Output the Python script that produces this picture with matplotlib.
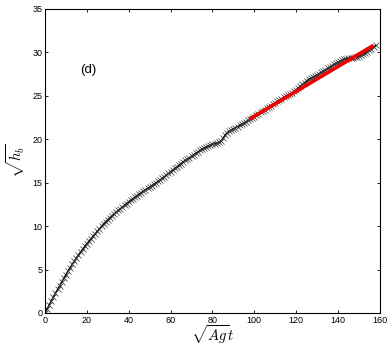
import matplotlib
matplotlib.use("Agg")
import matplotlib.pyplot as plt
import numpy as np

plt.rcParams['font.family'] = ['Liberation Sans', 'DejaVu Sans']
plt.rcParams['mathtext.fontset'] = 'cm'

# sqrt(Ag) t, sampled once per unit
t_vals = np.arange(0, 159)
# sqrt(h_b)
hb_vals = [
    0.00, 0.46, 0.92, 1.38, 1.83, 2.28, 2.72, 3.15, 3.58, 4.00,
    4.42, 4.83, 5.22, 5.60, 5.97, 6.33, 6.68, 7.02, 7.35, 7.67,
    7.98, 8.28, 8.57, 8.85, 9.13, 9.41, 9.69, 9.97, 10.24, 10.50,
    10.75, 10.97, 11.18, 11.39, 11.60, 11.80, 12.00, 12.20, 12.40, 12.60,
    12.80, 12.98, 13.16, 13.34, 13.52, 13.70, 13.86, 14.02, 14.18, 14.34,
    14.50, 14.66, 14.82, 14.98, 15.14, 15.30, 15.49, 15.68, 15.87, 16.06,
    16.25, 16.44, 16.63, 16.82, 17.01, 17.20, 17.39, 17.55, 17.72, 17.88,
    18.05, 18.21, 18.37, 18.54, 18.70, 18.87, 19.00, 19.10, 19.20, 19.30,
    19.40, 19.48, 19.56, 19.64, 19.75, 20.10, 20.45, 20.75, 20.90, 21.05,
    21.20, 21.33, 21.46, 21.60, 21.74, 21.88, 22.02, 22.16, 22.30, 22.46,
    22.61, 22.77, 22.93, 23.08, 23.24, 23.40, 23.55, 23.71, 23.87, 24.02,
    24.18, 24.34, 24.50, 24.65, 24.80, 24.95, 25.10, 25.20, 25.30, 25.50,
    25.70, 25.90, 26.10, 26.30, 26.50, 26.70, 26.90, 27.03, 27.15, 27.28,
    27.40, 27.55, 27.70, 27.85, 28.00, 28.15, 28.30, 28.45, 28.60, 28.72,
    28.85, 28.97, 29.10, 29.18, 29.25, 29.30, 29.35, 29.39, 29.42, 29.48,
    29.55, 29.65, 29.75, 29.90, 30.05, 30.22, 30.40, 30.60, 30.80,
]

# linear fit over the late stage
fit_t = [97.6, 157.0]
fit_hb = [22.3, 30.8]

x_ticks = [0, 20, 40, 60, 80, 100, 120, 140, 160]
y_ticks = [0, 5, 10, 15, 20, 25, 30, 35]

fig = plt.figure(figsize=(3.88, 3.46), dpi=100)
ax = fig.add_axes([0.116, 0.0954, 0.863, 0.879])

ax.plot(t_vals, hb_vals, color='black', linewidth=1.0, marker='x',
        markersize=4.2, markeredgewidth=0.5, markeredgecolor='#333333')
ax.plot(fit_t, fit_hb, color='#ee0000', linewidth=2.6, solid_capstyle='butt')

ax.set_xlim(0, 160)
ax.set_ylim(0, 35)
ax.set_xticks(x_ticks)
ax.set_yticks(y_ticks)
ax.tick_params(direction='in', top=True, right=True, length=2.5, width=0.6,
               labelsize=6.5, pad=2)
for s in ax.spines.values():
    s.set_linewidth(0.8)

ax.set_xlabel(r'$\sqrt{Ag}t$', fontsize=10.5, labelpad=-1)
ax.set_ylabel(r'$\sqrt{h_b}$', fontsize=10.5, labelpad=4)
ax.text(20.8, 28.0, '(d)', fontsize=9.5, ha='center', va='center')

fig.savefig('out.png', dpi=100)
